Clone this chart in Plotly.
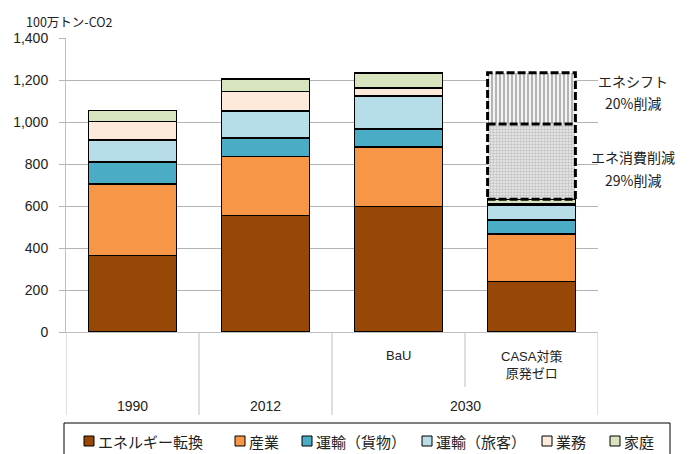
import plotly.graph_objects as go

# ---- data ----
categories = ["1990", "2012", "BaU", "CASA対策<br>原発ゼロ"]
outer_labels = ["1990", "2012", "2030"]
series_names = ["エネルギー転換", "産業", "運輸（貨物）", "運輸（旅客）", "業務", "家庭"]
energy_conv = [364, 555, 598, 240]
industry = [340, 281, 282, 228]
transport_freight = [106, 87, 88, 66]
transport_pass = [105, 130, 157, 71]
commercial = [87, 92, 38, 5]
household = [53, 61, 71, 22]
demand_cut = [None, None, None, 359]   # エネ消費削減 29%
shift_cut = [None, None, None, 243]    # エネシフト 20%
y_ticks = [0, 200, 400, 600, 800, 1000, 1200, 1400]

colors = ["#974706", "#F79646", "#4BACC6", "#B7DDE8", "#FDEADA", "#D7E4BD"]
series = [energy_conv, industry, transport_freight, transport_pass, commercial, household]

x_pos = list(range(len(categories)))
BW = 0.66
FONT = "Liberation Sans, Noto Sans CJK JP, sans-serif"
JP = "Noto Sans CJK JP, sans-serif"

# plot-area geometry (pixels) used for converting layout positions
W, H = 696, 454
ML, MR, MT, MB = 66, 98, 38, 122
PW, PH = W - ML - MR, H - MT - MB


def px(xp):
    return (xp - ML) / PW


def py(yp):
    return (H - MB - yp) / PH


fig = go.Figure()
for name, vals, col in zip(series_names, series, colors):
    fig.add_trace(go.Bar(
        x=x_pos, y=vals, name=name, width=BW, showlegend=False,
        marker=dict(color=col, line=dict(color="black", width=1.6)),
    ))

fig.add_trace(go.Bar(
    x=x_pos, y=demand_cut, name="エネ消費削減", width=BW, showlegend=False,
    marker=dict(color="#e6e6e6", line=dict(width=0),
                pattern=dict(shape=".", fgcolor="#9a9a9a", bgcolor="#ebebeb", size=3, solidity=0.5)),
))
fig.add_trace(go.Bar(
    x=x_pos, y=shift_cut, name="エネシフト", width=BW, showlegend=False,
    marker=dict(color="white", line=dict(width=0),
                pattern=dict(shape="|", fgcolor="#555555", bgcolor="#f4f4f4", size=4, solidity=0.4)),
))

# dashed outline around the reduction blocks (derived from data)
ci = 3
base = sum(s[ci] for s in series)
mid = base + demand_cut[ci]
top = mid + shift_cut[ci]
DASH = "8px,3px"
shapes = [
    dict(type="rect", xref="x", yref="y", x0=ci - BW / 2, x1=ci + BW / 2, y0=base, y1=top,
         line=dict(color="black", width=3, dash=DASH)),
    dict(type="line", xref="x", yref="y", x0=ci - BW / 2, x1=ci + BW / 2, y0=mid, y1=mid,
         line=dict(color="black", width=3, dash=DASH)),
]
# category dividers below the axis
for xd in [-0.5, 0.5, 1.5, 3.5]:
    shapes.append(dict(type="line", xref="x", yref="paper", x0=xd, x1=xd, y0=0, y1=py(415),
                       line=dict(color="#bfbfbf", width=1)))
shapes.append(dict(type="line", xref="x", yref="paper", x0=2.5, x1=2.5, y0=0, y1=py(387),
                   line=dict(color="#bfbfbf", width=1)))

annotations = []
annotations.append(dict(x=2, y=py(355), xref="x", yref="paper", text="BaU", showarrow=False,
                        xanchor="center", yanchor="middle",
                        font=dict(size=13, color="#222", family=FONT)))
annotations.append(dict(x=3, y=py(365), xref="x", yref="paper", text=categories[3], showarrow=False,
                        xanchor="center", yanchor="middle",
                        font=dict(size=13, color="#222", family=FONT)))
for xc, lab in zip([0, 1, 2.5], outer_labels):
    annotations.append(dict(x=xc, y=py(406), xref="x", yref="paper", text=lab, showarrow=False,
                            xanchor="center", yanchor="middle",
                            font=dict(size=14, color="#222", family=FONT)))
annotations.append(dict(x=px(24), y=py(22), xref="paper", yref="paper", text="100万トン-CO2",
                        showarrow=False, xanchor="left", yanchor="middle",
                        font=dict(size=12.5, color="#222", family=JP)))
for txt, yy in [("エネシフト", 81), ("20%削減", 103), ("エネ消費削減", 157), ("29%削減", 180)]:
    annotations.append(dict(x=px(633), y=py(yy), xref="paper", yref="paper",
                            text=txt, showarrow=False, xanchor="center", yanchor="middle",
                            font=dict(size=14, color="#222", family=JP)))

# manual legend (single row, boxed)
shapes.append(dict(type="rect", xref="paper", yref="paper", x0=px(64), x1=px(670),
                   y0=py(458), y1=py(423), line=dict(color="black", width=1), fillcolor="white"))
legend_x = [84, 235, 302, 422, 542, 610]
for lx, name, col in zip(legend_x, series_names, colors):
    shapes.append(dict(type="rect", xref="paper", yref="paper", x0=px(lx), x1=px(lx + 10),
                       y0=py(446), y1=py(436), line=dict(color="black", width=1), fillcolor=col))
    annotations.append(dict(x=px(lx + 12), y=py(441), xref="paper", yref="paper", text=name,
                            showarrow=False, xanchor="left", yanchor="middle",
                            font=dict(size=15, color="#222", family=JP)))

fig.update_layout(
    width=W, height=H,
    margin=dict(l=ML, r=MR, t=MT, b=MB, autoexpand=False),
    paper_bgcolor="white", plot_bgcolor="white",
    barmode="stack",
    font=dict(family=FONT, size=13, color="#222"),
    xaxis=dict(range=[-0.5, 3.5], showticklabels=False, showgrid=False, zeroline=False,
               showline=True, linecolor="#bfbfbf", linewidth=1, fixedrange=True),
    yaxis=dict(range=[0, 1400], tickvals=y_ticks, tickformat=",d",
               showgrid=True, gridcolor="#b3b3b3", gridwidth=1, zeroline=False,
               showline=True, linecolor="#bfbfbf", linewidth=1,
               ticks="outside", ticklen=6, tickcolor="#b3b3b3", ticklabelstandoff=8,
               tickfont=dict(size=14, color="#222", family=FONT)),
    shapes=shapes, annotations=annotations,
    showlegend=False,
)

fig.write_html("out.html")
